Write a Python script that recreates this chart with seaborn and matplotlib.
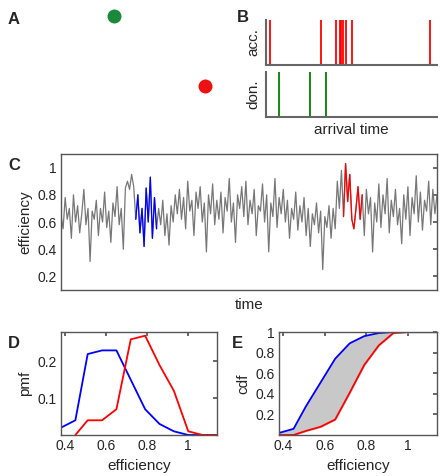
import matplotlib
matplotlib.use("Agg")
import matplotlib.pyplot as plt
import seaborn as sns
import numpy as np
import pandas as pd

sns.set_theme(style="white")
plt.rcParams['font.family'] = ['Liberation Sans', 'DejaVu Sans']

# Panel B: photon arrival times (fraction of window)
acc_times = [0.025, 0.32, 0.41, 0.43, 0.44, 0.45, 0.47, 0.50, 0.96]
don_times = [0.078, 0.26, 0.35]

# Panel C: efficiency trace (hand-read)
trace = [
 0.65,0.55,0.78,0.62,0.70,0.48,0.80,0.60,0.72,0.52,0.66,0.84,0.58,0.70,0.31,0.68,0.62,0.76,0.50,0.70,
 0.60,0.82,0.56,0.68,0.45,0.74,0.64,0.86,0.58,0.70,0.40,0.85,0.90,0.84,0.95,0.86,
 0.62,0.80,0.52,0.70,0.42,0.85,0.60,0.93,0.48,0.78,0.55,
 0.70,0.58,0.76,0.50,0.66,0.43,0.72,0.60,0.80,
 0.66,0.84,0.62,0.78,0.55,0.90,0.68,0.76,0.50,0.82,0.70,0.86,0.60,0.74,0.38,0.80,0.66,0.88,0.58,0.76,
 0.62,0.82,0.52,0.78,0.68,0.92,0.60,0.74,0.45,0.80,0.70,0.86,0.64,0.90,0.58,0.76,0.66,0.84,0.50,0.72,
 0.68,0.88,0.60,0.80,0.38,0.74,0.64,0.92,0.56,0.78,0.66,0.84,0.60,0.76,0.48,0.70,0.62,0.82,0.54,0.72,
 0.60,0.78,0.50,0.70,0.42,0.66,0.58,0.74,0.52,0.68,0.25,0.64,0.56,0.72,0.48,0.70,
 0.55,0.90,0.70,0.98,0.64,1.03,0.75,0.95,0.62,0.55,
 0.70,0.86,0.62,0.80,0.50,0.84,0.66,0.78,0.38,0.74,0.60,0.88,0.56,0.80,0.66,0.92,0.52,0.76,0.64,0.84,
 0.58,0.70,0.44,0.80,0.62,0.86,0.50,0.78,0.66,0.94,0.60,0.82,0.54,0.76,0.68,0.90,0.58,0.84,0.66,0.80]
blue_range = (36, 47)
red_range = (136, 146)

# Panels D/E: pmf
eff_bins = [0.38, 0.45, 0.51, 0.58, 0.65, 0.72, 0.79, 0.86, 0.93, 1.0, 1.07, 1.14]
pmf_blue = [0.02, 0.04, 0.22, 0.23, 0.23, 0.15, 0.07, 0.03, 0.01, 0.0, 0.0, 0.0]
pmf_red = [0.0, 0.0, 0.04, 0.04, 0.07, 0.26, 0.27, 0.19, 0.12, 0.01, 0.0, 0.0]

W, H = 444, 476
fig = plt.figure(figsize=(W/100, H/100), dpi=100)
def ax_at(x0, y0, x1, y1):
    return fig.add_axes([x0/W, 1-y1/H, (x1-x0)/W, (y1-y0)/H])

gray = '#555555'
def box(ax):
    for s in ax.spines.values():
        s.set_color(gray); s.set_linewidth(1.0)
    ax.tick_params(direction='in', length=3, color=gray, top=True, right=True,
                   labelsize=10, pad=3)

# Panel A placeholder (structure image)
axA = ax_at(20, 5, 215, 145); axA.axis('off')
axA.set_xlim(0, 1); axA.set_ylim(0, 1)
sns.scatterplot(x=[0.48], y=[0.92], color='#1a8a3a', s=120, ax=axA, legend=False)
sns.scatterplot(x=[0.95], y=[0.42], color='#ee1111', s=120, ax=axA, legend=False)
fig.text(8/W, 1-20/H, 'A', fontsize=12, fontweight='bold', va='center')

# Panel B
axB1 = ax_at(266, 20, 437, 65)
axB2 = ax_at(266, 72, 437, 117)
for ax, times, col, lab in [(axB1, acc_times, 'red', 'acc.'), (axB2, don_times, 'green', 'don.')]:
    ax.vlines(times, 0, 1, color=col, lw=1.3)
    ax.set_xlim(0, 1); ax.set_ylim(0, 1)
    ax.set_xticks([]); ax.set_yticks([])
    for s in ['top', 'right']: ax.spines[s].set_visible(False)
    for s in ['left', 'bottom']:
        ax.spines[s].set_color('#666666'); ax.spines[s].set_linewidth(1.5)
    ax.set_ylabel(lab, fontsize=11, labelpad=4)
axB2.set_xlabel('arrival time', fontsize=11, labelpad=4)
fig.text(237/W, 1-17/H, 'B', fontsize=12, fontweight='bold', va='center')

# Panel C
axC = ax_at(61, 154, 437, 290)
t = np.arange(len(trace))
df = pd.DataFrame({'t': t, 'e': trace})
sns.lineplot(data=df, x='t', y='e', color='#777777', lw=0.9, ax=axC)
b0, b1 = blue_range; r0, r1 = red_range
sns.lineplot(data=df.iloc[b0:b1], x='t', y='e', color='blue', lw=0.9, ax=axC)
sns.lineplot(data=df.iloc[r0:r1], x='t', y='e', color='red', lw=0.9, ax=axC)
axC.set_xlim(0, len(trace)-1); axC.set_ylim(0.1, 1.1)
axC.set_yticks([0.2, 0.4, 0.6, 0.8, 1.0]); axC.set_yticklabels(['0.2', '0.4', '0.6', '0.8', '1'])
axC.set_xticks([])
axC.set_xlabel('time', fontsize=11, labelpad=6); axC.set_ylabel('efficiency', fontsize=11)
box(axC)
fig.text(8/W, 1-165/H, 'C', fontsize=12, fontweight='bold', va='center')

# Panel D
axD = ax_at(61, 332, 217, 435)
dd = pd.DataFrame({'x': eff_bins, 'b': pmf_blue, 'r': pmf_red})
sns.lineplot(data=dd, x='x', y='b', color='blue', lw=1.3, ax=axD)
sns.lineplot(data=dd.iloc[1:], x='x', y='r', color='red', lw=1.3, ax=axD)
axD.set_xlim(0.38, 1.14); axD.set_ylim(0, 0.28)
axD.set_xticks([0.4, 0.6, 0.8, 1.0]); axD.set_xticklabels(['0.4', '0.6', '0.8', '1'])
axD.set_yticks([0.1, 0.2]); axD.set_yticklabels(['0.1', '0.2'])
axD.set_xlabel('efficiency', fontsize=11); axD.set_ylabel('pmf', fontsize=11)
box(axD)
fig.text(8/W, 1-343/H, 'D', fontsize=12, fontweight='bold', va='center')

# Panel E
axE = ax_at(279, 332, 437, 435)
cb = np.cumsum(pmf_blue); cr = np.cumsum(pmf_red)
cb = np.minimum(cb / cb[-1], 1); cr = np.minimum(cr / cr[-1], 1)
de = pd.DataFrame({'x': eff_bins, 'b': cb, 'r': cr})
axE.fill_between(de['x'], de['r'], de['b'], color='#c8c8c8')
sns.lineplot(data=de, x='x', y='b', color='blue', lw=1.3, ax=axE)
sns.lineplot(data=de, x='x', y='r', color='red', lw=1.3, ax=axE)
axE.set_xlim(0.38, 1.14); axE.set_ylim(0, 1.0)
axE.set_xticks([0.4, 0.6, 0.8, 1.0]); axE.set_xticklabels(['0.4', '0.6', '0.8', '1'])
axE.set_yticks([0.2, 0.4, 0.6, 0.8, 1.0]); axE.set_yticklabels(['0.2', '0.4', '0.6', '0.8', '1'])
axE.set_xlabel('efficiency', fontsize=11); axE.set_ylabel('cdf', fontsize=11)
box(axE)
fig.text(232/W, 1-343/H, 'E', fontsize=12, fontweight='bold', va='center')

fig.savefig('out.png', dpi=100)
